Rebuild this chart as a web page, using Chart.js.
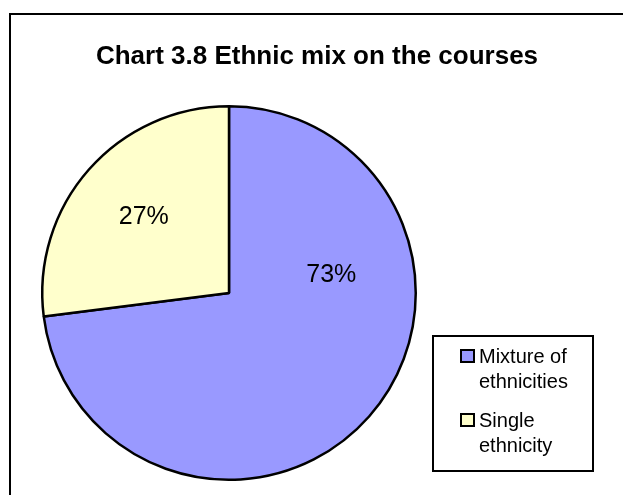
<!DOCTYPE html>
<html>
<head>
<meta charset="utf-8">
<script src="https://cdn.jsdelivr.net/npm/chart.js@4/dist/chart.umd.min.js"></script>
<style>
  html, body { margin: 0; padding: 0; background: #ffffff; }
  #wrap { position: relative; width: 623px; height: 495px; }
</style>
</head>
<body>
<div id="wrap"><canvas id="chartpie" width="623" height="495"></canvas></div>
<script>
// data
const chartTitle = "Chart 3.8 Ethnic mix on the courses";
const categories = ["Mixture of ethnicities", "Single ethnicity"];
const legendLines = [["Mixture of", "ethnicities"], ["Single", "ethnicity"]];
const shares = [73, 27];
const sliceColors = ["#9999ff", "#ffffcc"];

// where excel put the % labels: angle (deg, clockwise from 3 o'clock) and fraction of radius
const labelSpots = [{ ang: -9.9, f: 0.556 }, { ang: -138.4, f: 0.61 }];

const decor = {
    id: 'decor',
    afterDraw(chart) {
        const ctx = chart.ctx;
        ctx.save();

        // outer frame (right and bottom edges sit outside the picture)
        ctx.strokeStyle = '#000';
        ctx.lineWidth = 2;
        ctx.beginPath();
        ctx.moveTo(10, 495);
        ctx.lineTo(10, 14);
        ctx.lineTo(623, 14);
        ctx.stroke();

        // title
        ctx.fillStyle = '#000';
        ctx.font = 'bold 26px "Liberation Sans", Arial, sans-serif';
        ctx.textAlign = 'center';
        ctx.textBaseline = 'alphabetic';
        ctx.fillText(chartTitle, 317, 64);

        // percentage labels
        const meta = chart.getDatasetMeta(0);
        const total = shares.reduce((t, v) => t + v, 0);
        ctx.font = '25px "Liberation Sans", Arial, sans-serif';
        ctx.textBaseline = 'middle';
        meta.data.forEach((arc, i) => {
            const p = arc.getProps(['x', 'y', 'outerRadius'], true);
            const a = labelSpots[i].ang * Math.PI / 180;
            const r = p.outerRadius * labelSpots[i].f;
            const txt = Math.round(shares[i] / total * 100) + '%';
            ctx.fillText(txt, p.x + Math.cos(a) * r, p.y + Math.sin(a) * r);
        });

        // legend box
        ctx.lineWidth = 2;
        ctx.strokeStyle = '#000';
        ctx.fillStyle = '#fff';
        ctx.fillRect(433, 336, 160, 135);
        ctx.strokeRect(433, 336, 160, 135);

        ctx.font = '20px "Liberation Sans", Arial, sans-serif';
        ctx.textAlign = 'left';
        ctx.textBaseline = 'alphabetic';
        const firstY = [363, 427];
        legendLines.forEach((lines, i) => {
            const y0 = firstY[i];
            ctx.fillStyle = sliceColors[i];
            ctx.fillRect(461, y0 - 13, 13, 12);
            ctx.strokeStyle = '#000';
            ctx.lineWidth = 2;
            ctx.strokeRect(461, y0 - 13, 13, 12);
            ctx.fillStyle = '#000';
            lines.forEach((ln, k) => {
                ctx.fillText(ln, 479, y0 + k * 25);
            });
        });

        ctx.restore();
    }
};

new Chart(document.getElementById('chartpie'), {
    type: 'pie',
    data: {
        labels: categories,
        datasets: [{
            data: shares,
            backgroundColor: sliceColors,
            borderColor: '#000000',
            borderWidth: 2.5,
            hoverOffset: 0
        }]
    },
    plugins: [decor],
    options: {
        responsive: false,
        animation: false,
        layout: { padding: { left: 41, top: 105, right: 206, bottom: 14 } },
        plugins: {
            legend: { display: false },
            title: { display: false },
            tooltip: { enabled: false }
        }
    }
});
</script>
</body>
</html>
